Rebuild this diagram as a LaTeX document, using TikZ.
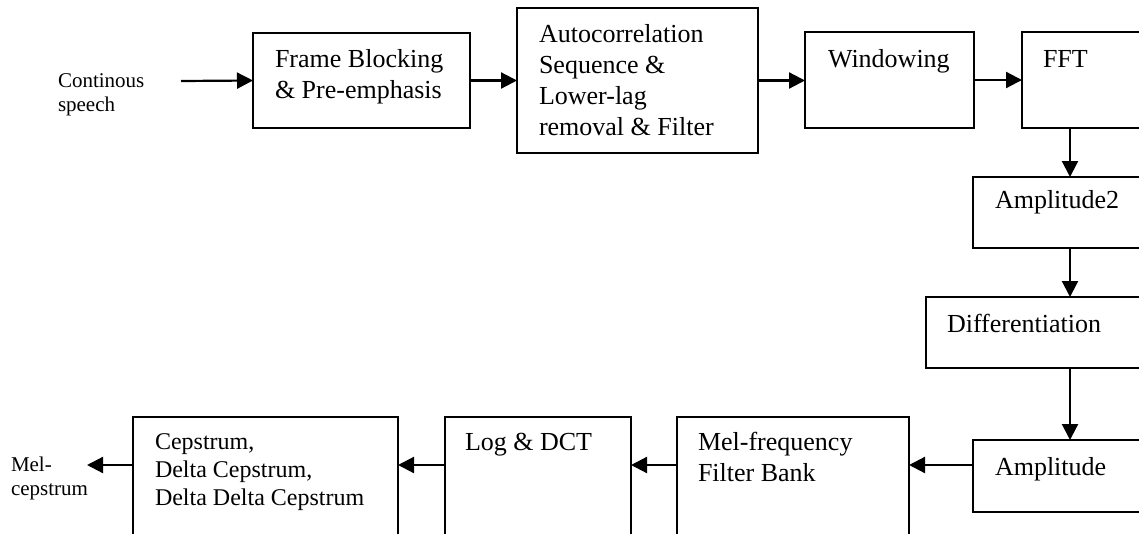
\documentclass[tikz,border=0pt]{standalone}
\usepackage{fontspec}
\setmainfont{Liberation Serif}
\usetikzlibrary{arrows.meta}
\begin{document}
\begin{tikzpicture}[x=1pt,y=-1pt,
  box/.style={draw,line width=2.2pt,rectangle,inner sep=0pt,outer sep=0pt,anchor=north west},
  txt/.style={inner sep=0pt,outer sep=0pt,anchor=base west,align=left,font=\fontsize{26}{31}\selectfont},
  smalltxt/.style={inner sep=0pt,outer sep=0pt,anchor=base west,align=left,font=\fontsize{21}{24}\selectfont},
  arr/.style={line width=2.2pt,-{Triangle[length=16pt,width=16pt]}}]
\useasboundingbox (0,0) rectangle (1139,533);
\clip (0,0) rectangle (1139,533);
% boxes
\node[box,minimum width=217pt,minimum height=95pt] (frame) at (253,33) {};
\node[box,minimum width=241pt,minimum height=145pt] (auto) at (517,8) {};
\node[box,minimum width=169pt,minimum height=96pt] (win) at (805,32) {};
\node[box,minimum width=160pt,minimum height=96pt] (fft) at (1022,32) {};
\node[box,minimum width=194pt,minimum height=71pt] (amp2) at (973,177) {};
\node[box,minimum width=288pt,minimum height=71pt] (diff) at (926,297) {};
\node[box,minimum width=194pt,minimum height=72pt] (amp) at (973,440) {};
\node[box,minimum width=232pt,minimum height=160pt] (mel) at (677,417) {};
\node[box,minimum width=186pt,minimum height=160pt] (log) at (445,417) {};
\node[box,minimum width=265pt,minimum height=160pt] (ceps) at (133,417) {};
% texts (multi-line texts: anchor at the baseline of the last line)
\node[smalltxt] (cs) at (58,111) {Continous\\speech};
\node[txt] (tframe) at (275,98) {Frame Blocking\\\& Pre-emphasis};
\node[txt] (tauto) at (539,135) {Autocorrelation\\Sequence \&\\Lower-lag\\removal \& Filter};
\node[txt] (twin) at (828,67) {Windowing};
\node[txt] (tfft) at (1043,67) {FFT};
\node[txt] (tamp2) at (995,208) {Amplitude2};
\node[txt] (tdiff) at (947,332) {Differentiation};
\node[txt] (tamp) at (995,475) {Amplitude};
\node[txt] (tmel) at (698,481) {Mel-frequency\\Filter Bank};
\node[txt] (tlog) at (465,450) {Log \& DCT};
\node[txt,font=\fontsize{24}{28}\selectfont] (tceps) at (155,505) {Cepstrum,\\Delta Cepstrum,\\Delta Delta Cepstrum};
\node[smalltxt] (out) at (11,495) {Mel-\\cepstrum};
% connectors
\coordinate (in) at (181,81);
\draw[arr] (in) -- (frame.west);
\draw[arr] (frame.east) -- (auto.west |- frame.east);
\draw[arr] (auto.east) -- (win.west |- auto.east);
\draw[arr] (win.east) -- (fft.west |- win.east);
\draw[arr] (fft.south -| amp2.north) -- (amp2.north);
\draw[arr] (amp2.south) -- (diff.north);
\draw[arr] (diff.south) -- (amp.north);
\draw[arr] ([yshift=-25pt]amp.north west) coordinate (a1) -- (a1 -| mel.east);
\draw[arr] ([yshift=-48pt]mel.north west) coordinate (a2) -- (a2 -| log.east);
\draw[arr] ([yshift=-48pt]log.north west) coordinate (a3) -- (a3 -| ceps.east);
\coordinate (outend) at (87,465);
\draw[arr] (ceps.west |- outend) -- (outend);
\end{tikzpicture}
\end{document}
